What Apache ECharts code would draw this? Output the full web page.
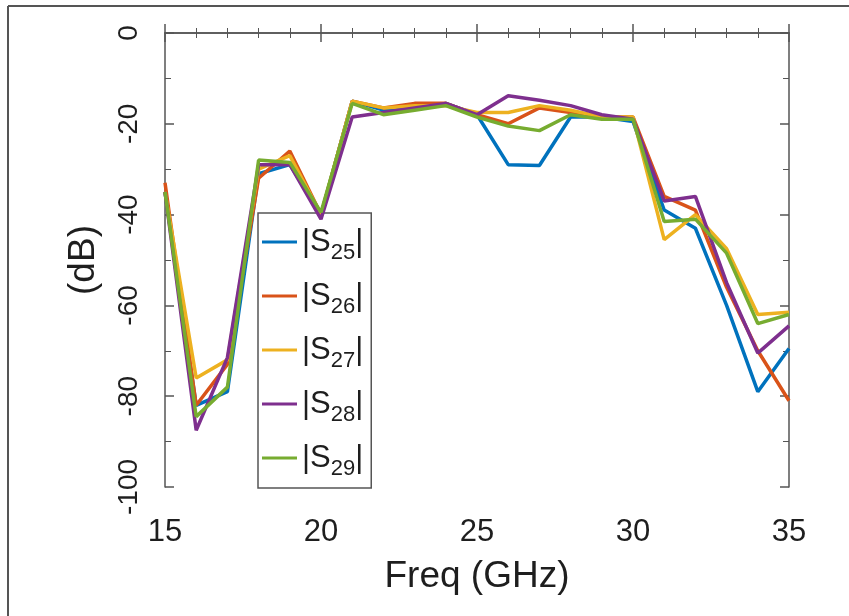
<!DOCTYPE html>
<html>
<head>
<meta charset="utf-8">
<script src="https://cdn.jsdelivr.net/npm/echarts@6/dist/echarts.min.js"></script>
<style>
html,body{margin:0;padding:0;background:#fff;}
#chart{width:849px;height:616px;}
</style>
</head>
<body>
<div id="chart"></div>
<script>
var freq = [15,16,17,18,19,20,21,22,23,24,25,26,27,28,29,30,31,32,33,34,35];
var seriesNames = ['S25','S26','S27','S28','S29'];
var s25 = [-35,-82,-79,-31,-29,-40,-15,-17,-16.5,-15.5,-18,-29,-29.2,-18.5,-18.5,-19.5,-39,-43,-60,-79,-69.5];
var s26 = [-33,-82,-73,-32,-26,-40,-15,-16.5,-15.5,-15.5,-18,-20,-16.5,-17.5,-18.5,-18.5,-36,-39,-56,-70,-81];
var s27 = [-35,-76,-72,-30,-27,-40,-15,-16.5,-16,-16,-17.5,-17.5,-16,-17,-18.5,-18.5,-45.5,-40,-47.5,-62,-61.5];
var s28 = [-35,-87.5,-71.5,-29,-29,-41,-18.5,-17.5,-16.5,-15.5,-18,-13.8,-14.8,-16,-18,-19,-37,-36,-55,-70.5,-64.5];
var s29 = [-35,-84.5,-78,-28,-28.5,-39.5,-15.5,-18,-17,-16,-18.5,-20.5,-21.5,-18,-19,-19,-41.5,-41,-48.5,-64,-62];
var xTicks = [15,20,25,30,35];
var yTicks = [0,-20,-40,-60,-80,-100];
var colors = ['#0072BD','#D95319','#EDB120','#7E2F8E','#77AC30'];
var allData = [s25,s26,s27,s28,s29];

var FONT = "'Liberation Sans', Arial, sans-serif";
var axisColor = '#555';
var textColor = '#1e1e1e';

function pairs(arr){ return freq.map(function(f,i){ return [f, arr[i]]; }); }

var series = seriesNames.map(function(n,i){
  return {
    name: n, type: 'line', data: pairs(allData[i]),
    showSymbol: false, symbol: 'none',
    lineStyle: {color: colors[i], width: 3.5},
    itemStyle: {color: colors[i]},
    xAxisIndex: 0, yAxisIndex: 0, animation: false, z: 2 + i
  };
});

var commonX = {
  type: 'value', min: 15, max: 35, interval: 5,
  axisLine: {show: true, lineStyle: {color: axisColor, width: 1.5}},
  splitLine: {show: false},
  minorTick: {show: true, splitNumber: 5, length: 5, lineStyle: {color: axisColor, width: 1}},
  axisTick: {show: true, inside: true, length: 9, lineStyle: {color: axisColor, width: 1.5}}
};
var commonY = {
  type: 'value', min: -100, max: 0, interval: 20,
  axisLine: {show: true, lineStyle: {color: axisColor, width: 1.5}},
  splitLine: {show: false},
  minorTick: {show: true, splitNumber: 2, length: 6, lineStyle: {color: axisColor, width: 1}},
  axisTick: {show: true, inside: true, length: 9, lineStyle: {color: axisColor, width: 1.5}}
};

var option = {
  backgroundColor: '#fff',
  animation: false,
  grid: {left: 165, right: 60, top: 33, bottom: 129, containLabel: false},
  xAxis: [
    Object.assign({}, commonX, {
      position: 'bottom',
      name: 'Freq (GHz)', nameLocation: 'middle', nameGap: 71,
      nameTextStyle: {fontFamily: FONT, fontSize: 37, color: textColor},
      axisLabel: {show: true, margin: 30, fontFamily: FONT, fontSize: 31, color: textColor,
        formatter: function(v){ return xTicks.indexOf(v) >= 0 ? String(v) : ''; }}
    }),
    Object.assign({}, commonX, {position: 'top', axisLabel: {show: false}})
  ],
  yAxis: [
    Object.assign({}, commonY, {
      position: 'left',
      name: '(dB)', nameLocation: 'middle', nameGap: 63, nameRotate: 90,
      nameTextStyle: {fontFamily: FONT, fontSize: 37, color: textColor},
      axisLabel: {show: true, rotate: 90, margin: 22, fontFamily: FONT, fontSize: 28, color: textColor,
        formatter: function(v){ return yTicks.indexOf(v) >= 0 ? String(v) : ''; }}
    }),
    Object.assign({}, commonY, {position: 'right', axisLabel: {show: false}})
  ],
  legend: {
    orient: 'vertical', left: 258, top: 213,
    data: seriesNames,
    icon: 'rect', itemWidth: 35, itemHeight: 3, itemGap: 10,
    padding: [7, 8, 8, 4],
    backgroundColor: '#fff', borderColor: axisColor, borderWidth: 1.5, borderRadius: 0,
    formatter: function(n){ return '{t||S}{s|' + n.slice(1) + '}{t||}'; },
    textStyle: {
      fontFamily: FONT, fontSize: 31, color: textColor, lineHeight: 34,
      rich: {
        t: {fontFamily: FONT, fontSize: 31, color: textColor, lineHeight: 34},
        s: {fontFamily: FONT, fontSize: 22, color: textColor, padding: [22, 0, 0, 0], lineHeight: 22}
      }
    }
  },
  graphic: [
    {type: 'line', shape: {x1: 8, y1: 6, x2: 849, y2: 6}, style: {stroke: '#555', lineWidth: 2}, z: 100},
    {type: 'line', shape: {x1: 8, y1: 6, x2: 8, y2: 616}, style: {stroke: '#555', lineWidth: 2}, z: 100}
  ],
  series: series
};

var chart = echarts.init(document.getElementById('chart'), null, {renderer: 'canvas'});
chart.setOption(option);
</script>
</body>
</html>
